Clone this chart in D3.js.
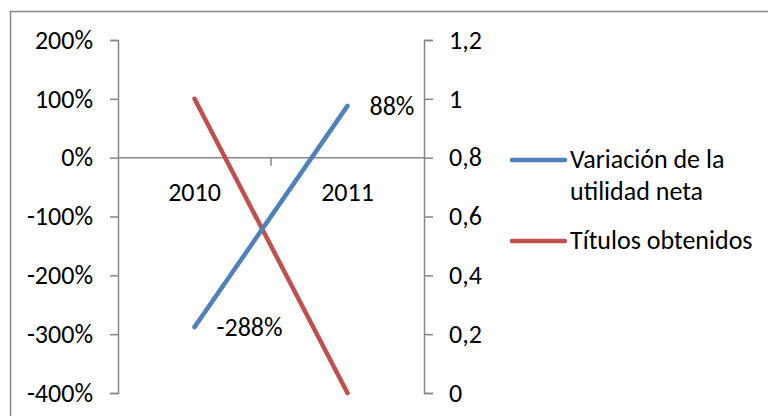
<!DOCTYPE html>
<html>
<head>
<meta charset="utf-8">
<script src="https://cdn.jsdelivr.net/npm/d3@7"></script>
<style>
body { margin: 0; background: #fff; }
svg text { font-family: Carlito, Calibri, "Open Sans", sans-serif; font-size: 26px; fill: #000; }
</style>
</head>
<body>
<svg id="chart" width="768" height="416"></svg>
<script>
//Chart data
const CATEGORIES = ["2010", "2011"];
const UTILIDAD = [-2.88, 0.88];       //Variación de la utilidad neta (left axis, percent)
const TITULOS = [1, 0];               //Títulos obtenidos (right axis)
const LEFT_TICKS = [-4, -3, -2, -1, 0, 1, 2];
const RIGHT_TICKS = [0, 0.2, 0.4, 0.6, 0.8, 1, 1.2];

const BLUE = "#4f81bd";
const RED = "#c0504d";
const AXIS_COLOR = "#868686";

const PLOT_LEFT = 118;
const PLOT_RIGHT = 424;
const PLOT_TOP = 40;
const PLOT_BOTTOM = 393;

const svg = d3.select("#chart");

//Outer border (right and bottom fall outside the picture)
svg.append("rect")
	.attr("x", 10.5).attr("y", 11.5)
	.attr("width", 900).attr("height", 600)
	.attr("fill", "none")
	.attr("stroke", AXIS_COLOR)
	.attr("stroke-width", 1.5);

//Scales
const x = d3.scaleBand().domain(CATEGORIES).range([PLOT_LEFT, PLOT_RIGHT]);
const yLeft = d3.scaleLinear().domain([-4, 2]).range([PLOT_BOTTOM, PLOT_TOP]);
const yRight = d3.scaleLinear().domain([0, 1.2]).range([PLOT_BOTTOM, PLOT_TOP]);
const cx = c => x(c) + x.bandwidth() / 2;

//Left axis
const leftAxis = svg.append("g")
	.attr("transform", "translate(" + PLOT_LEFT + ",0)")
	.call(d3.axisLeft(yLeft).tickValues(LEFT_TICKS).tickSize(8).tickPadding(17)
		.tickFormat(d => Math.round(d * 100) + "%"));

//Right axis
const rightAxis = svg.append("g")
	.attr("transform", "translate(" + PLOT_RIGHT + ",0)")
	.call(d3.axisRight(yRight).tickValues(RIGHT_TICKS).tickSize(9).tickPadding(16)
		.tickFormat(d => String(+d.toFixed(1)).replace(".", ",")));

for (const ax of [leftAxis, rightAxis])
{
	ax.select(".domain").attr("stroke", AXIS_COLOR).attr("stroke-width", 1.5);
	ax.selectAll(".tick line").attr("stroke", AXIS_COLOR).attr("stroke-width", 1.5);
	ax.selectAll("text").attr("fill", "#000").attr("font-size", null).attr("font-family", null);
}

//Category axis at 0%
const xAxis = svg.append("g")
	.attr("transform", "translate(0," + yLeft(0) + ")");
xAxis.append("line")
	.attr("x1", PLOT_LEFT).attr("x2", PLOT_RIGHT)
	.attr("stroke", AXIS_COLOR).attr("stroke-width", 1.5);
xAxis.selectAll(".xtick")
	.data(CATEGORIES.slice(1))
	.enter()
	.append("line")
	.attr("x1", d => x(d)).attr("x2", d => x(d))
	.attr("y1", 0).attr("y2", 8)
	.attr("stroke", AXIS_COLOR).attr("stroke-width", 1.5);
xAxis.selectAll(".xlabel")
	.data(CATEGORIES)
	.enter()
	.append("text")
	.attr("x", d => cx(d))
	.attr("y", 43)
	.attr("text-anchor", "middle")
	.text(d => d);

//Lines
const lineLeft = d3.line().x((d, i) => cx(CATEGORIES[i])).y(d => yLeft(d));
const lineRight = d3.line().x((d, i) => cx(CATEGORIES[i])).y(d => yRight(d));

svg.append("path")
	.attr("d", lineRight(TITULOS))
	.attr("fill", "none").attr("stroke", RED)
	.attr("stroke-width", 4.5).attr("stroke-linecap", "round");

svg.append("path")
	.attr("d", lineLeft(UTILIDAD))
	.attr("fill", "none").attr("stroke", BLUE)
	.attr("stroke-width", 4.5).attr("stroke-linecap", "round");

//Data labels for the blue series
svg.selectAll(".dlabel")
	.data(UTILIDAD)
	.enter()
	.append("text")
	.attr("x", (d, i) => cx(CATEGORIES[i]) + 22)
	.attr("y", d => yLeft(d) + 9)
	.text(d => Math.round(d * 100) + "%");

//Legend
const legend = svg.append("g");
const legendRows = [
	{ color: BLUE, y: 160, lines: ["Variación de la", "utilidad neta"] },
	{ color: RED, y: 241, lines: ["Títulos obtenidos"] }
];
legendRows.forEach((row, i) =>
{
	legend.append("line")
		.attr("x1", 512).attr("x2", 565)
		.attr("y1", row.y).attr("y2", row.y)
		.attr("stroke", row.color).attr("stroke-width", 4.5).attr("stroke-linecap", "round");
	const t = legend.append("text").attr("x", 570).attr("y", row.y + 8);
	row.lines.forEach((l, j) =>
		t.append("tspan").attr("x", 570).attr("dy", j == 0 ? 0 : 32).text(l));
});
</script>
</body>
</html>
